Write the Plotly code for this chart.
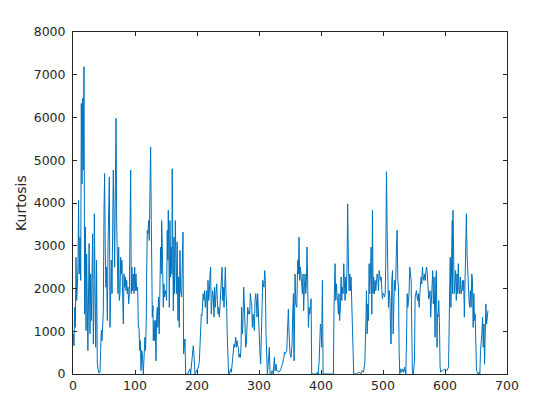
import plotly.graph_objects as go

# Sample positions and kurtosis values, in segments
x1 = [0.5,1.6,2.7,3.8,4.8,5.9,7,8,9,10,11.3,12.4,13.4,14.5,15.6,16.7,17.7,18.8,19.9,21,22,23,24,25,26,27.4,28.5,29.6,30.6,31.7,32.8,33.9,34.4,35.5,36.6,37.6,38,39.2,40.3,41.4,42.5,43.5,44.6,45.7,46.8,47.8,48.9,50,51,52,53,54,55.4,56.5,57.5,58.6,59.7,60.8,61.8,62.9,64,65,66,67.2,68.3,69.4,70.4,71.5,72.6,73.7,74.7,75.8,76.9,78,79,80,81.2,82.3,83.3,84.4,85.5,86.6,87.6,88.7,89.8,90.9,92,93,94,95,96,97.3,98.4,99.5,100.5,101.6,102.7,104.3,105.4,106.5,107.5,108.6,109.7,110.8,111.8,113.4,114.5]
y1 = [940,660,1560,1090,2730,1720,2030,2500,4060,2340,3200,2190,6330,4450,6450,4770,7190,1400,3440,1020,2810,1880,550,1800,3050,940,2340,1250,2970,3280,700,1880,3750,940,625,1880,2660,230,80,30,30,30,550,1020,780,1090,1480,3830,4690,2970,2030,2500,1250,2970,3520,4610,1090,1880,2660,1880,3980,4770,3830,2500,4380,5980,3590,2970,1880,2970,1720,1880,2730,2340,2660,1880,1170,2340,2030,2270,1950,2190,1880,2030,1640,1880,3125,4770,1880,2500,1950,2340,1880,2500,1950,2340,1950,2030,1090,1090,550,780,80,550,470,0,470]

x2 = [115,116,117,118.2,118.8,119.8,121,122,123,124,125.2,126.3,126.8,127.9,129,129.5,130.6,131.7,132.7,133.8,134.9,136,137,138,139,140.3,141.3,142.4,143,144,145,145.6,146.7,147.8,148.9,150,151,152,153,153.7,154.8,155.3,156.4,157.5,158.5,159.6,160,161,161.8,162.8,163.9,165,166,167,168,169.3,170.4,171.4,172.5,173.6,175.2,176.3,177.4,178.4,179.5,180.6,181.7,183.3,184.9,186,187,188.6,189.7,191.3,193,194,195,196.7,198.3,199.4,201,202,203.7,204.8,205.8,207,208,209,210,211.2,212.3,213.4,214.5,215.5,216.6,217.7,218.8,219.8,221,222,223,224,225.2,226.3,227.4,228.4]
y2 = [550,860,550,1250,2340,3360,3280,3590,3125,4610,5310,3590,3125,1330,1600,780,1250,780,1250,310,1330,1560,1090,1800,940,2420,2970,2340,3590,3050,2270,1560,2110,1800,1950,1880,1720,3360,2660,3830,2660,1560,3590,2270,2970,2340,4800,1800,1480,3200,1880,3590,2500,1880,3090,1250,2270,1090,2890,1950,1800,2660,3320,470,700,820,0,0,0,40,90,120,0,310,625,660,470,0,40,80,120,160,270,860,1330,1400,1370,1640,1880,1720,1950,1560,1880,1950,1170,2190,1720,1880,2340,2500,1400,1880,1950,1800,1330,2030]

x3 = [229.6,230.7,231.8,232.8,234,235,236,237,238.7,240.4,241.4,242.5,243.6,244.7,245.7,246.8,247.9,249,250,251,252,253,254.3,255.4,256.5,257.6,258.6,259.7,260.8,261.9,262.4,263.5,264.5,265.6,266.7,267.8,268.8,270,271,272,273,274,275.3,276.4,277.5,278.5,279.6,280.7,281.8,282.8,283.9,285,286,287,288.2,289.3,290.4,291.4,292.5,293.6,294.7,295.7,296.8,297.9,299,300,301.6,302.7,304.3,305.4,306,307,308,309.2,310.2,311.3,312.4,313.5,314.5,315.6,316.7,317.8,319.4,321,323,324.8,325.8,327.5,328.5,330,331.8,334,335.5,337,338,339.3,340.4]
y3 = [1560,1880,2110,1720,1400,1560,1330,1560,1950,2500,1720,2030,1560,1950,2500,1880,1560,780,40,0,0,80,120,40,200,310,550,700,625,740,860,625,780,660,625,390,470,390,625,1560,940,1170,2030,1640,700,625,700,1480,1560,1400,1480,1400,1880,1720,1640,1090,1400,1250,1020,1720,1880,1720,1330,1880,1330,1400,470,230,1400,2030,2190,2110,2030,2420,2190,940,310,0,160,470,625,0,0,80,0,390,80,230,80,80,40,80,120,200,230,350,390]

x4 = [341,342,343.7,344.8,345.8,347.4,348.5,350,351.7,353.4,354.4,355.5,356.6,357,358.2,359.3,360.9,362.5,363.6,364.6,365.7,366.8,367.9,369,370,371,372,373.2,374.3,375.4,376.5,377.5,378.6,379.7,380.8,381.8,383,384,385,387.8,390.5,393,394,395.3,397,398,399,400,401,402.3,403.4,406.6,409.3,412,414.6,417.3,420,421,422.7,423.8,424.9,426,427,428,429,430,431.3,432.4,433.5,434.5,435.6,436.7,437.8,438.8,440,441,442,443,444,445.3,446.4,447.4,448.5,449.6,450.7,451.7,452.8]
y4 = [510,470,510,550,940,1520,940,470,390,700,1400,1880,310,2270,2340,1640,1560,2660,2340,3200,2190,2500,2340,2190,1880,2340,1480,2030,2340,1880,2190,2970,2190,1090,1560,1400,1560,1760,0,0,0,0,40,0,270,780,1170,1090,625,2190,0,0,0,0,0,0,0,1560,2580,1720,2110,1800,1720,1400,1880,1250,1560,2270,1720,2030,1880,2580,2030,1720,2270,1880,2500,3980,2810,1950,2340,1950,2270,1400,625,550,0]

x5 = [454.5,457.8,460.4,462,464.2,466.4,468.5,470.7,472.3,473.3,474.4,475.5,476.6,477.6,478.7,479.8,480.9,482,483,484,485,486.2,487.3,488.4,489.5,490.5,491.6,492.7,493.8,494.8,496,497,498,499,500.2,501.3,502.4,503.5,504.5,505.6,506.7,507.8,508.8,510,511,512,513,514.2,515.3,516.4,517.4,518.5,519.6,520.7,521.7,522.8,523.9,525,526,527,528.7,530.3,532,533.6,535,536.8,537.9,539,540,541,542,543.2,544.3,545.4,546.5,547.5,549,550.8,551.8,552.9,554,555,556,557,558.3,559.4,560.4,561.5,562.6,563.7,564.7,565.8,567]
y5 = [0,0,40,40,0,80,40,270,1170,1950,940,1640,1250,2580,1880,2340,2970,1400,3830,1880,2270,1880,2190,1950,2190,2340,2270,1950,2420,2270,2190,2270,1880,1760,1880,1880,1800,1880,2660,4730,3360,2030,1560,1950,1800,1170,700,2190,2420,940,1720,2190,1950,2270,2970,3360,2190,2030,550,0,120,40,120,40,160,0,780,1880,1560,1720,1880,2500,2270,2190,940,0,0,310,1800,1880,1950,1800,1720,1880,1560,1880,2030,2270,2110,2500,2270,2190,2340]

x6 = [568.2,569.3,570.4,571.5,572.5,573.6,574.7,575.8,576.9,578,579.1,580.2,581.2,582.3,583.4,584,585,586.1,587.2,587.8,588.8,589.9,591,592.1,593.2,594.8,597.5,600.3,603,605.7,607.3,608.4,609.5,610.6,611.7,612.2,612.8,613.8,614.9,616,617.1,618.2,619.3,620.4,621.5,622.5,623.6,624.7,625.8,626.9,628,629.1,630.2,631.2,632.3,633.4,634.5,635.6,636.7,637.8,638.8,639.9,641,642.1,643.2,644.3,645.4,646.5,647.5,648.6,649.7,650.8,651.9,653.5,655.2,656.2,657.3,658.4,659.5,660.6,661.7,662.8,663.8,664.9,666,667.1,668.2,669.3]
y6 = [2190,2420,2500,2340,1880,1760,1800,1950,1330,1800,2340,2420,1640,2270,1400,860,2190,2420,625,1400,1330,1720,1250,160,40,80,90,120,80,160,1560,2730,1560,2970,3590,1880,3830,2970,1880,2190,2420,1720,2340,1880,2580,1950,1880,2270,1880,1950,2190,1950,2190,1330,2030,2340,3750,2810,2270,1950,1720,1560,1950,1560,2340,2190,1090,1880,1250,1400,270,80,40,0,40,0,550,700,940,1330,625,1170,230,940,1640,1170,1330,1480]

x_ticks = [0, 100, 200, 300, 400, 500, 600, 700]
y_ticks = [0, 1000, 2000, 3000, 4000, 5000, 6000, 7000, 8000]
y_label = "Kurtosis"

xs, ys = [], []
for a, b in [(x1, y1), (x2, y2), (x3, y3), (x4, y4), (x5, y5), (x6, y6)]:
    assert len(a) == len(b), (len(a), len(b))
    xs += a
    ys += b

fig = go.Figure()
fig.add_trace(go.Scatter(x=xs, y=ys, mode="lines",
                         line=dict(color="#0072BD", width=1),
                         showlegend=False, hoverinfo="skip"))

axis_common = dict(
    showline=True, linecolor="#262626", linewidth=1, mirror="ticks",
    ticks="inside", ticklen=4, tickwidth=1, tickcolor="#262626",
    showgrid=False, zeroline=False,
    tickfont=dict(family="DejaVu Sans", size=12.5, color="#262626"),
)

fig.update_xaxes(range=[0, 700], tickvals=x_ticks,
                 ticktext=[str(v) for v in x_ticks], **axis_common)
fig.update_yaxes(range=[0, 8000], tickvals=y_ticks,
                 ticktext=[str(v) for v in y_ticks], ticklabelstandoff=4, **axis_common)

fig.add_annotation(text=y_label, xref="paper", yref="paper",
                   x=-0.12, y=0.5, xanchor="center", yanchor="middle",
                   textangle=-90, showarrow=False,
                   font=dict(family="DejaVu Sans", size=14, color="#262626"))

# The page body has an 8px margin, so the figure is sized to fit inside it
fig.update_layout(
    width=552, height=412,
    margin=dict(l=65, r=53, t=24, b=46),
    plot_bgcolor="white", paper_bgcolor="white",
)

fig.write_html("out.html")
